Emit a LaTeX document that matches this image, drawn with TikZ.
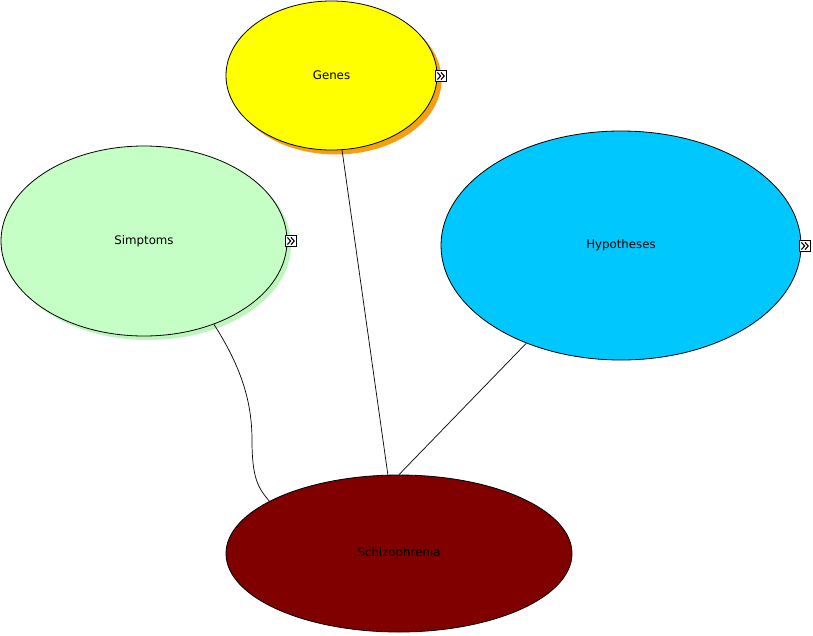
\documentclass[tikz,border=0pt]{standalone}
\usepackage{fontspec}
\setmainfont{DejaVu Sans}
\usetikzlibrary{shapes.geometric}
\definecolor{genesfill}{RGB}{255,255,0}
\definecolor{genesshadow}{RGB}{245,160,20}
\definecolor{simpfill}{RGB}{198,255,198}
\definecolor{simpshadow}{RGB}{190,245,190}
\definecolor{hypfill}{RGB}{0,200,255}
\definecolor{schizofill}{RGB}{128,0,0}
\tikzset{
  concept/.style={ellipse, draw=black, line width=0.8pt, inner sep=0pt,
    font=\fontsize{11.8}{14}\selectfont, text=black},
  shadowell/.style={ellipse, draw=none, inner sep=0pt},
  link/.style={draw=black, line width=0.7pt},
  moreicon/.style={rectangle, draw=black, fill=white, line width=0.8pt,
    minimum width=11pt, minimum height=11pt, inner sep=0pt,
    path picture={
      \draw[line width=1.1pt, line join=miter]
        ([xshift=-3.6pt,yshift=3.6pt]path picture bounding box.center)
        -- ++(3.2pt,-3.6pt) -- ++(-3.2pt,-3.6pt);
      \draw[line width=1.1pt, line join=miter]
        ([xshift=0pt,yshift=3.6pt]path picture bounding box.center)
        -- ++(3.2pt,-3.6pt) -- ++(-3.2pt,-3.6pt);
    }}
}
\begin{document}
\begin{tikzpicture}[x=1pt,y=-1pt]
\useasboundingbox (0,0) rectangle (813,635);
% shadows
\node[shadowell, fill=genesshadow, minimum width=211pt, minimum height=149pt] (genessh) at (336,80) {};
\node[shadowell, fill=simpshadow, minimum width=286pt, minimum height=190pt] (simpsh) at (148,245) {};
% concepts
\node[concept, fill=genesfill, minimum width=211pt, minimum height=149pt] (genes) at (331.5,75.5) {Genes};
\node[concept, fill=simpfill, minimum width=286pt, minimum height=190pt] (simp) at (144,241) {Simptoms};
\node[concept, fill=hypfill, minimum width=360pt, minimum height=229pt] (hyp) at (621,245.5) {Hypotheses};
\node[concept, fill=schizofill, minimum width=346pt, minimum height=157pt] (schizo) at (399,553.5) {Schizophrenia};
% icons
\node[moreicon] (genesicon) at (441,76) {};
\node[moreicon] (simpicon) at (291,241) {};
\node[moreicon] (hypicon) at (805,246) {};
% connectors
\draw[link] (genes) -- (schizo);
\draw[link] (hyp) -- (schizo.north);
\draw[link] (simp.-50) .. controls (240,365) and (252,400) .. (252,440)
  .. controls (252,478) and (258,488) .. (schizo.158);
\end{tikzpicture}
\end{document}
